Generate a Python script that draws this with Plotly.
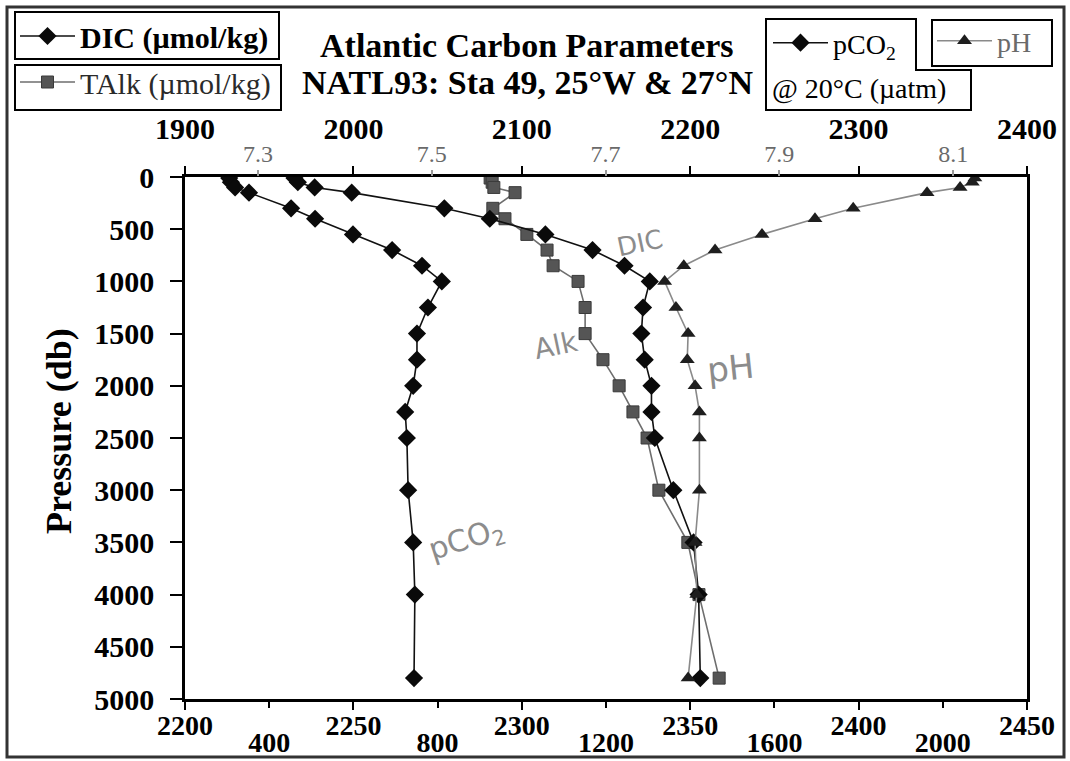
import plotly.graph_objects as go

# ---------------- data ----------------
pressure = [10, 50, 100, 150, 300, 400, 550, 700, 850, 1000,
            1250, 1500, 1750, 2000, 2250, 2500, 3000, 3500, 4000, 4800]

dic = [1965, 1967, 1977, 1999, 2054, 2081, 2114, 2142, 2161, 2176,
       2172, 2171, 2173, 2177, 2177, 2179, 2190, 2202, 2205, 2206]

talk = [2290.6, 2291.2, 2291.7, 2298.0, 2291.4, 2295.0, 2301.5, 2307.5, 2309.3, 2316.7,
        2318.8, 2318.8, 2324.1, 2328.9, 2333.0, 2337.2, 2340.7, 2349.3, 2352.6, 2358.6]

pco2 = [305, 309, 319, 352, 452, 509, 599, 692, 763, 810,
        777, 751, 751, 742, 723, 727, 730, 742, 746, 744]

ph = [8.125, 8.122, 8.108, 8.070, 7.985, 7.941, 7.880, 7.826, 7.790, 7.768,
      7.781, 7.795, 7.794, 7.803, 7.808, 7.808, 7.808, 7.803, 7.805, 7.795]

dic_ticks = [1900, 2000, 2100, 2200, 2300, 2400]
talk_ticks = [2200, 2250, 2300, 2350, 2400, 2450]
pco2_ticks = [400, 800, 1200, 1600, 2000]
ph_ticks = [7.3, 7.5, 7.7, 7.9, 8.1]
ph_labels = ["7.3", "7.5", "7.7", "7.9", "8.1"]
p_ticks = [0, 500, 1000, 1500, 2000, 2500, 3000, 3500, 4000, 4500, 5000]

# ---------------- figure ----------------
W, H = 1070, 761
L, R, T, B = 185, 43, 177, 62
PW, PH = W - L - R, H - T - B


def px(xp):
    return (xp - L) / PW


def py(yp):
    return (H - B - yp) / PH


def cx(xp):
    return xp / W


def cy(yp):
    return 1 - yp / H


SERIF = "Liberation Serif"
fig = go.Figure()

fig.add_trace(go.Scatter(
    x=talk, y=pressure, xaxis="x", yaxis="y", mode="lines+markers",
    name="TAlk (µmol/kg)", legend="legend2", showlegend=True,
    line=dict(color="#6e6e6e", width=1.6),
    marker=dict(symbol="square", size=12, color="#555555", line=dict(color="#3a3a3a", width=1)),
))
fig.add_trace(go.Scatter(
    x=dic, y=pressure, xaxis="x3", yaxis="y", mode="lines+markers",
    name="DIC (µmol/kg)", legend="legend", showlegend=True,
    line=dict(color="#111111", width=1.6),
    marker=dict(symbol="diamond", size=14, color="#0a0a0a"),
))
fig.add_trace(go.Scatter(
    x=ph, y=pressure, xaxis="x4", yaxis="y", mode="lines+markers",
    name="pH", legend="legend4", showlegend=True,
    line=dict(color="#8a8a8a", width=1.6),
    marker=dict(symbol="triangle-up", size=13, color="#1e1e1e"),
))
fig.add_trace(go.Scatter(
    x=pco2, y=pressure, xaxis="x2", yaxis="y", mode="lines+markers",
    name="pCO<sub>2</sub>", legend="legend3", showlegend=True,
    line=dict(color="#111111", width=1.6),
    marker=dict(symbol="diamond", size=14, color="#0a0a0a"),
))

bold30 = dict(family=SERIF, size=30, color="black", weight="bold")
bold28 = dict(family=SERIF, size=28, color="black", weight="bold")

common = dict(showgrid=False, zeroline=False, ticks="outside", tickcolor="black",
              tickwidth=2)

leg_common = dict(xref="container", yref="container", xanchor="left", yanchor="top",
                  itemwidth=55, tracegroupgap=0, borderwidth=0, bgcolor="rgba(0,0,0,0)")

fig.update_layout(
    width=W, height=H,
    showlegend=True,
    margin=dict(l=L, r=R, t=T, b=B, pad=0, autoexpand=False),
    paper_bgcolor="white", plot_bgcolor="white",
    font=dict(family=SERIF, color="black"),
    xaxis=dict(range=[2200, 2450], tickvals=talk_ticks, side="bottom",
               showline=True, linecolor="black", linewidth=2.5, ticklen=8,
               tickfont=bold28, ticklabelstandoff=-8, **common),
    xaxis2=dict(range=[200, 2200], tickvals=pco2_ticks, overlaying="x", side="bottom",
                anchor="y", showline=False, ticklen=8, tickfont=bold28,
                ticklabelstandoff=10, **common),
    xaxis3=dict(range=[1900, 2400], tickvals=dic_ticks, overlaying="x", side="top",
                anchor="y", showline=True, linecolor="black", linewidth=2.5, ticklen=8,
                tickfont=bold30, ticklabelstandoff=15, **common),
    xaxis4=dict(range=[7.216, 8.185], tickvals=ph_ticks, ticktext=ph_labels,
                overlaying="x", side="top", anchor="y", showline=False,
                showgrid=False, zeroline=False, ticks="outside", ticklen=6,
                tickcolor="#9a9a9a", tickwidth=1.5,
                tickfont=dict(family=SERIF, size=24, color="#6a6a6a"),
                ticklabelstandoff=-2),
    yaxis=dict(range=[5000, 0], tickvals=p_ticks, showline=True, mirror=True,
               linecolor="black", linewidth=2.5, ticklen=12, tickfont=bold30,
               ticklabelstandoff=10, **common),
    legend=dict(x=cx(15), y=cy(10),
                font=dict(family=SERIF, size=30, color="black", weight="bold"),
                **leg_common),
    legend2=dict(x=cx(15), y=cy(56),
                 font=dict(family=SERIF, size=30, color="#2a2a2a"),
                 **leg_common),
    legend3=dict(x=cx(768), y=cy(18),
                 font=dict(family=SERIF, size=28, color="black"),
                 **leg_common),
    legend4=dict(x=cx(932), y=cy(16),
                 font=dict(family=SERIF, size=28, color="#6a6a6a"),
                 **leg_common),
)

# legend frames
box = dict(type="rect", xref="paper", yref="paper", line=dict(color="black", width=2),
           fillcolor="rgba(0,0,0,0)")
for x0, y0, x1, y1 in [(15, 12, 279, 59), (15, 65, 281, 110), (932, 20, 1052, 66)]:
    fig.add_shape(x0=px(x0), x1=px(x1), y0=py(y1), y1=py(y0), **box)
fig.add_shape(type="path", xref="paper", yref="paper",
              path=(f"M{px(766)},{py(19)} L{px(916)},{py(19)} L{px(916)},{py(70)} "
                    f"L{px(971)},{py(70)} L{px(971)},{py(110)} L{px(766)},{py(110)} Z"),
              line=dict(color="black", width=2))
fig.add_annotation(xref="paper", yref="paper", x=px(770), y=py(89), xanchor="left",
                   yanchor="middle", showarrow=False, text="@ 20°C (µatm)",
                   font=dict(family=SERIF, size=28, color="black"))

# outer page frame
fig.add_shape(type="rect", xref="paper", yref="paper",
              x0=px(7), x1=px(1064), y0=py(757), y1=py(7),
              line=dict(color="#333333", width=3), layer="below")

# title (two lines)
for txt, yy in [("Atlantic Carbon Parameters", 45), ("NATL93: Sta 49, 25°W &amp; 27°N", 82)]:
    fig.add_annotation(xref="paper", yref="paper", x=px(527), y=py(yy), xanchor="center",
                       yanchor="middle", showarrow=False, text=f"<b>{txt}</b>",
                       font=dict(family=SERIF, size=34, color="black"))

# y-axis title
fig.add_annotation(xref="paper", yref="paper", x=px(59), y=py(431), xanchor="center",
                   yanchor="middle", showarrow=False, textangle=-90,
                   text="<b>Pressure (db)</b>",
                   font=dict(family=SERIF, size=36, color="black"))

# hand-written labels
hand = dict(family="DejaVu Sans", color="#8c8c8c")
for txt, xx, yy, ang, sz in [("DIC", 640, 243, -12, 26), ("Alk", 556, 345, -12, 28),
                              ("pH", 730, 368, -6, 34), ("pCO<sub>2</sub>", 466, 540, -18, 30)]:
    fig.add_annotation(xref="paper", yref="paper", x=px(xx), y=py(yy), showarrow=False,
                       xanchor="center", yanchor="middle",
                       text=txt, textangle=ang, font=dict(size=sz, **hand))

fig.write_html("out.html", post_script="document.body.style.margin='0';",
               config={"displayModeBar": False})
